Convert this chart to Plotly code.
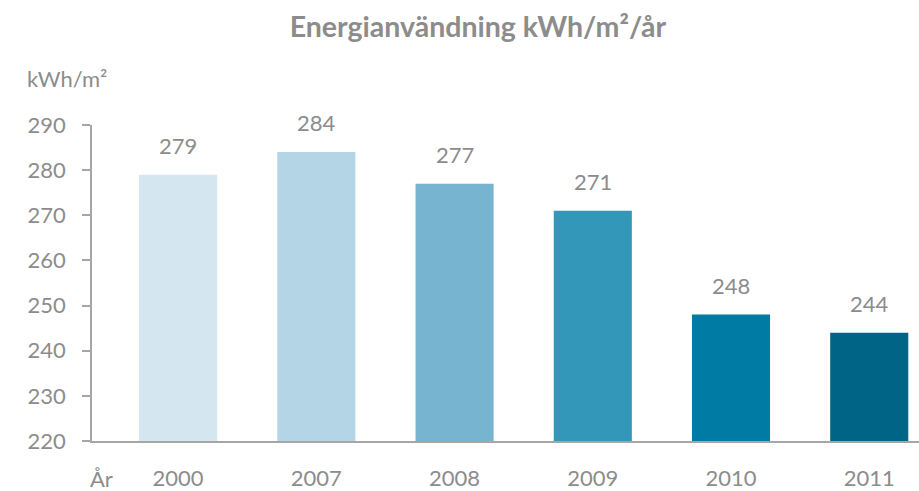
import plotly.graph_objects as go

years = ["2000", "2007", "2008", "2009", "2010", "2011"]
values = [279, 284, 277, 271, 248, 244]
colors = ["#d4e6f0", "#b3d5e5", "#77b4cf", "#3397b9", "#007ba3", "#006487"]
y_ticks = [220, 230, 240, 250, 260, 270, 280, 290]
y_min = 220

title_text = "Energianvändning kWh/m²/år"
unit_text = "kWh/m²"
x_label = "År"

FONT = "Lato"
GREY = "#8c8c8c"

fig = go.Figure()
fig.add_trace(go.Bar(
    x=years, y=[v - y_min for v in values], base=y_min,
    marker=dict(color=colors, line=dict(width=0)),
    width=0.565, showlegend=False,
    customdata=values, hovertemplate="%{x}: %{customdata}<extra></extra>",
))

for i, v in enumerate(values):
    fig.add_annotation(x=i, y=v, xref="x", yref="y", text=str(v), showarrow=False,
                       yanchor="bottom", yshift=14,
                       font=dict(family=FONT, size=22, color=GREY))

fig.add_annotation(xref="paper", yref="paper", x=-0.005, y=0, xanchor="left",
                   yanchor="middle", yshift=-37, text=x_label, showarrow=False,
                   font=dict(family=FONT, size=22, color=GREY))
fig.add_annotation(xref="paper", yref="paper", x=-0.0815, y=1, xanchor="left",
                   yanchor="middle", yshift=47, text=unit_text, showarrow=False,
                   font=dict(family=FONT, size=22, color=GREY))

fig.update_layout(
    width=919, height=491,
    margin=dict(l=92, r=0, t=125, b=50),
    paper_bgcolor="white", plot_bgcolor="white",
    title=dict(text="<b>" + title_text + "</b>", x=0.52, xanchor="center",
               y=0.945, yanchor="middle",
               font=dict(family=FONT, size=28.5, color=GREY)),
    font=dict(family=FONT, color=GREY),
)
fig.update_xaxes(
    type="category", range=[-0.623, 5.36], showgrid=False, automargin=False,
    showline=True, linecolor="#a6a6a6", linewidth=2,
    ticks="", ticklabelstandoff=17,
    tickfont=dict(family=FONT, size=22, color=GREY),
)
fig.update_yaxes(
    range=[220, 290], tickvals=y_ticks, showgrid=False, zeroline=False,
    automargin=False,
    showline=True, linecolor="#a6a6a6", linewidth=1.5,
    ticks="outside", ticklen=8, tickcolor="#a6a6a6", tickwidth=1.5,
    tickfont=dict(family=FONT, size=22, color=GREY),
    ticklabelstandoff=12,
)

fig.write_html("out.html", config={"displayModeBar": False},
               post_script="document.body.style.margin='0';document.body.style.padding='0';")
